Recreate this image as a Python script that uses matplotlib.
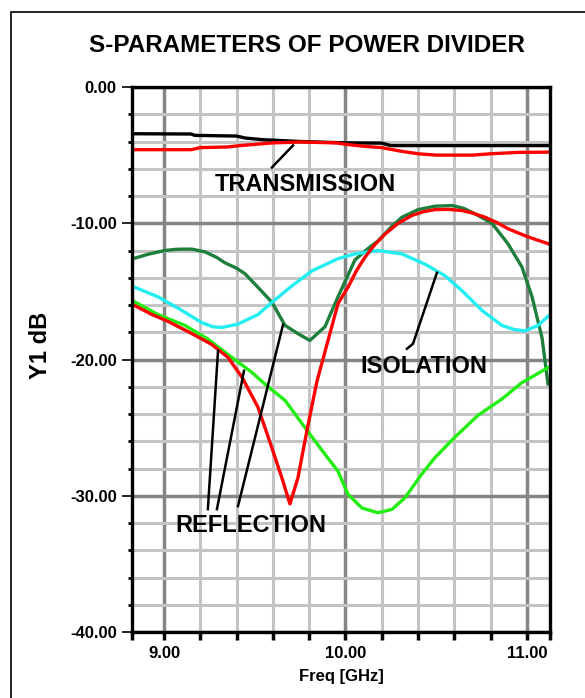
import matplotlib
matplotlib.use("Agg")
import matplotlib.pyplot as plt
from matplotlib.patches import Rectangle
import numpy as np

plt.rcParams['font.family'] = ['Liberation Sans', 'DejaVu Sans']
plt.rcParams['font.weight'] = 'bold'

# transmission (two ports)
trans1_f = [8.824, 9.15, 9.17, 9.40, 9.45, 9.55, 9.75, 10.0, 10.2, 10.25, 11.127]
trans1_db = [-3.43, -3.45, -3.55, -3.60, -3.75, -3.87, -4.0, -4.1, -4.12, -4.3, -4.3]
trans2_f = [8.84, 9.15, 9.2, 9.35, 9.42, 9.6, 9.75, 9.95, 10.0, 10.1, 10.2, 10.3, 10.4,
            10.5, 10.7, 10.8, 10.95, 11.127]
trans2_db = [-4.6, -4.6, -4.45, -4.4, -4.3, -4.1, -4.04, -4.1, -4.2, -4.35, -4.45, -4.7,
             -4.9, -5.0, -5.0, -4.9, -4.8, -4.78]

# reflection (red)
refl_f = [8.840, 8.934, 9.022, 9.154, 9.264, 9.353, 9.430, 9.518, 9.595, 9.650, 9.694,
          9.738, 9.788, 9.843, 9.904, 9.959, 10.014, 10.060, 10.107, 10.160, 10.218,
          10.290, 10.366, 10.430, 10.493, 10.570, 10.642, 10.700, 10.769, 10.835,
          10.895, 10.950, 11.006, 11.116]
refl_db = [-16.05, -16.7, -17.2, -18.1, -18.9, -19.85, -21.3, -23.5, -26.5, -28.7, -30.6,
           -28.7, -25.2, -21.6, -18.6, -15.9, -14.7, -13.5, -12.5, -11.6, -10.8,
           -10.0, -9.43, -9.15, -9.0, -8.98, -9.07, -9.25, -9.56, -9.95,
           -10.4, -10.7, -11.0, -11.5]

# isolation (dark green)
iso_f = [8.829, 8.920, 9.006, 9.060, 9.099, 9.154, 9.226, 9.290, 9.336, 9.400, 9.446,
         9.518, 9.595, 9.667, 9.738, 9.804, 9.887, 9.959, 10.052, 10.120, 10.179,
         10.250, 10.311, 10.400, 10.493, 10.587, 10.650, 10.713, 10.807, 10.895, 10.972,
         11.028, 11.083, 11.116]
iso_db = [-12.6, -12.25, -12.0, -11.92, -11.9, -11.9, -12.1, -12.5, -12.9, -13.3, -13.7,
          -14.7, -15.8, -17.5, -18.1, -18.6, -17.6, -15.4, -12.7, -11.9, -11.3,
          -10.3, -9.56, -9.0, -8.75, -8.7, -8.9, -9.3, -10.0, -11.5, -13.2,
          -15.4, -18.4, -21.8]

# cyan
cyan_f = [8.840, 8.967, 9.099, 9.209, 9.270, 9.320, 9.408, 9.518, 9.595, 9.705, 9.815,
          9.959, 10.052, 10.179, 10.311, 10.438, 10.548, 10.642, 10.752, 10.862, 10.930,
          10.989, 11.061, 11.127]
cyan_db = [-14.7, -15.4, -16.4, -17.3, -17.6, -17.65, -17.4, -16.7, -15.8, -14.6, -13.5,
           -12.6, -12.25, -12.0, -12.25, -13.0, -13.85, -14.95, -16.4, -17.5, -17.8,
           -17.9, -17.5, -16.7]

# bright green
green_f = [8.829, 8.967, 9.116, 9.242, 9.375, 9.485, 9.556, 9.667, 9.777, 9.887, 9.959,
           10.014, 10.091, 10.179, 10.256, 10.328, 10.421, 10.493, 10.603, 10.730,
           10.862, 10.972, 11.116]
green_db = [-15.7, -16.7, -17.5, -18.5, -19.85, -20.95, -21.8, -23.0, -25.0, -26.95, -28.2,
            -29.9, -30.9, -31.25, -31.0, -30.15, -28.4, -27.2, -25.7, -24.1,
            -22.9, -21.7, -20.6]

# label texts and pointer lines
labels = ["TRANSMISSION", "ISOLATION", "REFLECTION"]
label_pos = [(9.777, -7.15), (10.432, -20.54), (9.479, -32.15)]
pointers = [
    ([9.595, 9.711], [-5.90, -4.29]),
    ([10.339, 10.372, 10.504], [-19.21, -18.85, -13.63]),
    ([9.242, 9.298], [-30.98, -19.36]),
    ([9.292, 9.441], [-30.98, -20.83]),
    ([9.408, 9.656], [-30.76, -17.45]),
]

fig = plt.figure(figsize=(5.85, 6.98), dpi=100)
ax = fig.add_axes([132/585, 1 - 632/698, 418/585, 545/698])

lw = 2.4
ax.plot(trans1_f, trans1_db, color='black', lw=lw, zorder=3)
ax.plot(trans2_f, trans2_db, color='#ff0000', lw=lw, zorder=3)
ax.plot(iso_f, iso_db, color='#1e7f3c', lw=lw, zorder=3)
ax.plot(cyan_f, cyan_db, color='#22eef2', lw=lw, zorder=3)
ax.plot(green_f, green_db, color='#22ee11', lw=lw, zorder=3)
ax.plot(refl_f, refl_db, color='#ff0000', lw=lw, zorder=4)

for xs, ys in pointers:
    ax.plot(xs, ys, color='black', lw=1.8, zorder=5)
for txt, (x, y) in zip(labels, label_pos):
    ax.text(x, y, txt, ha='center', va='center', fontsize=17, fontweight='bold', zorder=6)

ax.set_xlim(8.824, 11.127)
ax.set_ylim(-40, 0)

ax.set_xticks([9, 10, 11])
ax.set_xticklabels(["9.00", "10.00", "11.00"])
xminor = [8.824] + [round(v, 1) for v in np.arange(9.2, 11.0, 0.2) if abs(v - 10) > 0.01] + [11.127]
ax.set_xticks(xminor, minor=True)
ax.set_yticks([0, -10, -20, -30, -40])
ax.set_yticklabels(["0.00", "-10.00", "-20.00", "-30.00", "-40.00"])
ax.set_yticks([v for v in range(-38, 0, 2) if v % 10 != 0], minor=True)

ax.grid(which='minor', color='#c4c4c4', lw=2.2, zorder=0)
ax.grid(which='major', color='#858585', lw=2.5, zorder=0)
ax.set_axisbelow(True)

ax.tick_params(axis='y', which='major', direction='out', length=7, width=1.2,
               labelsize=12, pad=4)
ax.tick_params(axis='y', which='minor', direction='out', length=3, width=2)
ax.tick_params(axis='x', which='both', direction='out', length=6, width=2.5,
               labelsize=12, pad=4)
for s in ax.spines.values():
    s.set_linewidth(2.4)
    s.set_zorder(7)

ax.set_xlabel("Freq [GHz]", fontsize=12, fontweight='bold', labelpad=6)
fig.text(40/585, 1 - 345/698, "Y1 dB", rotation=90, ha='center', va='center',
         fontsize=17, fontweight='bold')
fig.text(307/585, 1 - 45/698, "S-PARAMETERS OF POWER DIVIDER", ha='center', va='center',
         fontsize=17.5, fontweight='bold')

# page frame, open on the right and bottom
fig.patches.append(Rectangle((11/585, -0.01), 1.0, 1 - 12/698 + 0.01, fill=False,
                             edgecolor='black', lw=1.2, transform=fig.transFigure))

fig.savefig("out.png", dpi=100)
